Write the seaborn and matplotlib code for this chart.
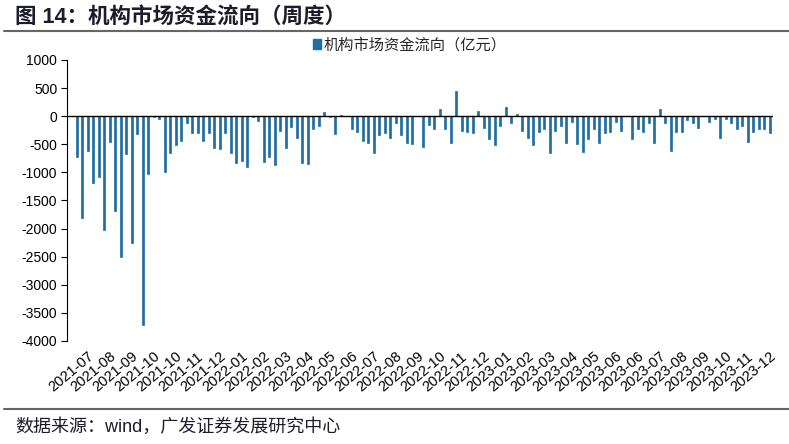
import numpy as np
import pandas as pd
import seaborn as sns
import matplotlib.pyplot as plt
from matplotlib.lines import Line2D
from matplotlib.patches import Patch

# 机构市场资金流向（亿元），周度，2021-07 至 2023-12
flow = [-730, -1815, -617, -1198, -1091, -2017, -451, -1696, -2497, -670,
        -2248, -320, -3719, -1032, -10, -59, -985, -647, -510, -439,
        -130, -297, -297, -439, -308, -563, -593, -308, -652, -825,
        -801, -913, -24, -83, -813, -724, -872, -261, -563, -190,
        -397, -830, -854, -220, -172, 71, -24, -320, 20, 0,
        -220, -290, -450, -486, -664, -338, -308, -380, -130, -338,
        -486, -498, 0, -557, -160, -220, 119, -220, -486, 445,
        -261, -290, -308, 83, -208, -415, -522, -172, 154, -119,
        36, -267, -385, -516, -279, -237, -652, -267, -172, -474,
        -107, -498, -635, -415, -237, -486, -308, -279, -101, -261,
        0, -409, -231, -279, -130, -486, 130, -119, -617, -290,
        -279, -71, -130, -202, 0, -101, -59, -380, -42, -113,
        -237, -178, -457, -290, -220, -237, -297]

tick_labels = ['2021-07', '2021-08', '2021-09', '2021-10', '2021-10', '2021-11',
               '2021-12', '2022-01', '2022-02', '2022-03', '2022-04', '2022-05',
               '2022-06', '2022-07', '2022-08', '2022-09', '2022-10', '2022-11',
               '2022-12', '2023-01', '2023-02', '2023-03', '2023-04', '2023-05',
               '2023-06', '2023-06', '2023-07', '2023-08', '2023-09', '2023-10',
               '2023-11', '2023-12']

bar_color = '#1F6EA3'

sns.set_theme(style='white')
plt.rcParams['font.family'] = ['Liberation Sans', 'Noto Sans CJK SC']
plt.rcParams['axes.unicode_minus'] = False

df = pd.DataFrame({'week': range(len(flow)), 'flow': flow})

fig = plt.figure(figsize=(7.89, 4.44), dpi=100)
ax = fig.add_axes([0.0849, 0.232, 0.895, 0.633])

sns.barplot(data=df, x='week', y='flow', color=bar_color, saturation=1,
            width=0.35, edgecolor=bar_color, linewidth=0.5, ax=ax)

ax.axhline(0, color='black', lw=1, zorder=3)
ax.set_ylim(-4000, 1000)
ax.set_yticks(np.arange(-4000, 1001, 500))
ax.set_xlim(-1.76, len(flow) - 0.35)
ax.set_xlabel('')
ax.set_ylabel('')

# x轴标签大约每4周一个
ax.set_xticks(np.arange(len(tick_labels)) * 4 - 1)
ax.set_xticklabels(tick_labels, rotation=40, ha='center', va='top')
ax.tick_params(axis='x', length=0, pad=6, labelsize=10.5, colors='black')
ax.tick_params(axis='y', length=4, width=0.8, direction='out', left=True,
               labelsize=10, colors='black', pad=3)

for s in ['top', 'right', 'bottom']:
    ax.spines[s].set_visible(False)
ax.spines['left'].set_color('black')
ax.spines['left'].set_linewidth(0.8)

# 图例
handle = Patch(color=bar_color)
fig.legend([handle], ['机构市场资金流向（亿元）'], loc='center',
           bbox_to_anchor=(410 / 789, 1 - 45 / 444), frameon=False,
           fontsize=11, handlelength=0.5, handleheight=0.6, handletextpad=0.2)

# 标题和来源
fig.text(15 / 789, 1 - 17 / 444, '图 14：机构市场资金流向（周度）', fontsize=15.5,
         fontweight='bold', va='center', color='#1c1c2a')
fig.add_artist(Line2D([0.005, 1], [1 - 31 / 444] * 2, color='#666666', lw=1.5,
                      transform=fig.transFigure))
fig.add_artist(Line2D([0.005, 1], [1 - 409 / 444] * 2, color='#666666', lw=1.5,
                      transform=fig.transFigure))
fig.text(15 / 789, 1 - 427 / 444, '数据来源：wind，广发证券发展研究中心',
         fontsize=13, va='center', color='#1c1c2a')

fig.savefig('out.png', dpi=100)
